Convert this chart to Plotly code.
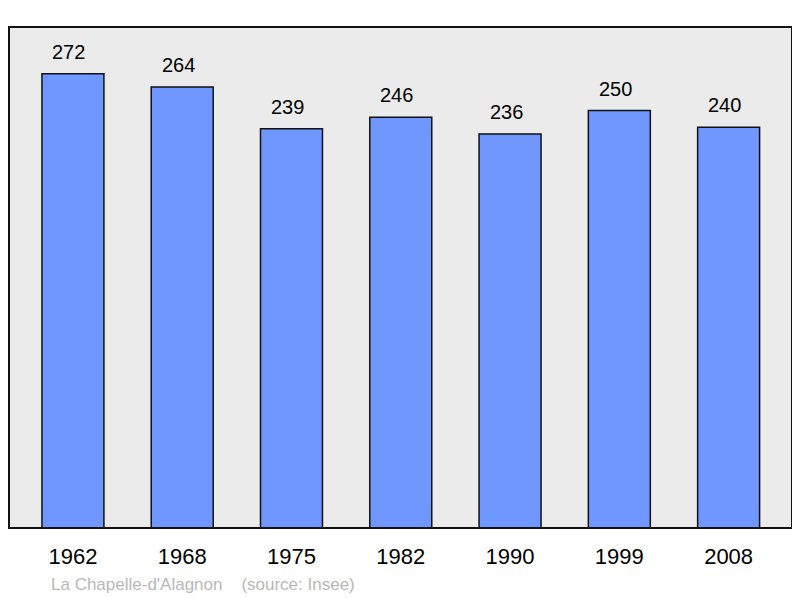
import plotly.graph_objects as go

years = ["1962", "1968", "1975", "1982", "1990", "1999", "2008"]
population = [272, 264, 239, 246, 236, 250, 240]
source_text = "La Chapelle-d'Alagnon    (source: Insee)"

FONT = "Liberation Sans, Arial, sans-serif"

# page body has an 8px margin, so the figure is placed at (8, 8)
W, H = 792, 590
ML, MR, MT, MB = 1, 8, 19, 70
PW, PH = W - ML - MR, H - MT - MB

fig = go.Figure()
fig.add_trace(go.Bar(
    x=list(range(len(years))), y=population, width=0.567,
    marker=dict(color="#7096ff", line=dict(color="#111111", width=1.5)),
    hoverinfo="skip",
))

for i, v in enumerate(population):
    fig.add_annotation(x=i, y=v, text=str(v), showarrow=False, yanchor="bottom",
                       yshift=9, xshift=-4, font=dict(family=FONT, size=20, color="#000000"))

fig.add_annotation(xref="paper", yref="paper", x=(49 - 9) / PW, y=-(584 - 528) / PH,
                   xanchor="left", yanchor="middle", text=source_text, showarrow=False,
                   font=dict(family=FONT, size=17, color="#b8b8b8"))

fig.add_shape(type="rect", xref="paper", yref="paper", x0=0, y0=0, x1=1, y1=1,
              line=dict(color="#111111", width=2), layer="above")

fig.update_layout(
    width=W, height=H,
    margin=dict(l=ML, r=MR, t=MT, b=MB),
    paper_bgcolor="white", plot_bgcolor="#ebebeb",
    showlegend=False,
    xaxis=dict(range=[-0.585, 6.58], tickmode="array", tickvals=list(range(len(years))),
               ticktext=years, showgrid=False, zeroline=False,
               ticks="outside", ticklen=9, tickcolor="rgba(0,0,0,0)",
               tickfont=dict(family=FONT, size=22, color="#000000")),
    yaxis=dict(range=[0, 300], showgrid=False, zeroline=False, showticklabels=False),
)

fig.write_html("out.html")
